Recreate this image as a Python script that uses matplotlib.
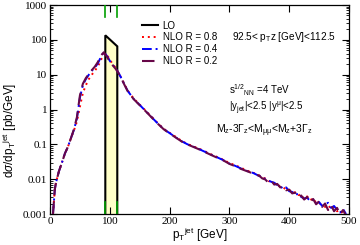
import matplotlib
matplotlib.use("Agg")
import matplotlib.pyplot as plt
from matplotlib.ticker import FixedLocator, FuncFormatter, LogLocator, NullFormatter

plt.rcParams['font.family'] = ['Liberation Sans', 'DejaVu Sans']
plt.rcParams['mathtext.fontset'] = 'custom'
plt.rcParams['mathtext.rm'] = 'Liberation Sans'
plt.rcParams['mathtext.it'] = 'Liberation Sans:italic'
plt.rcParams['mathtext.bf'] = 'Liberation Sans:bold'

# ---------------- data ----------------
pt = [5, 8, 10, 15, 20, 25, 30, 35, 40, 45,
      50, 55, 60, 65, 70, 75, 80, 85, 90, 95,
      100, 105, 110, 115, 120, 125, 130, 140, 150, 160,
      170, 180, 190, 200, 210, 220, 230, 240, 250, 260,
      270, 280, 290, 300, 310, 320, 330, 340, 350, 355,
      360, 365, 370, 375, 380, 385, 390, 395, 400, 405,
      410, 415, 420, 425, 430, 435, 440, 445, 450, 455,
      460, 465, 470, 475, 480, 485, 490, 495]

nlo_r08 = [0.001, 0.005, 0.008, 0.017, 0.03, 0.055, 0.085, 0.15, 0.25, 0.45,
           1.2, 3.0, 5.0, 7.5, 10, 13, 17, 26, 40, 38,
           27, 20, 15.5, 11, 7.6, 5.1, 3.5, 2.05, 1.38, 0.92,
           0.62, 0.41, 0.28, 0.215, 0.165, 0.126, 0.102, 0.087, 0.074, 0.062,
           0.051, 0.043, 0.036, 0.029, 0.025, 0.021, 0.0175, 0.0152, 0.0128, 0.0112,
           0.0105, 0.0088, 0.0086, 0.0074, 0.0072, 0.0060, 0.0058, 0.0050, 0.0049, 0.0040,
           0.0042, 0.0035, 0.0036, 0.0027, 0.0032, 0.0025, 0.0028, 0.0021, 0.0020, 0.0019,
           0.0016, 0.0018, 0.0014, 0.0016, 0.0012, 0.0013, 0.0010, 0.0009]

nlo_r04 = [0.001, 0.005, 0.008, 0.017, 0.03, 0.055, 0.085, 0.15, 0.26, 0.55,
           2.2, 5.0, 7.5, 10, 13, 16, 21, 32, 45, 35,
           25, 19, 15, 11, 7.5, 5.0, 3.4, 2.0, 1.35, 0.9,
           0.6, 0.4, 0.275, 0.21, 0.16, 0.123, 0.1, 0.085, 0.072, 0.06,
           0.05, 0.042, 0.035, 0.028, 0.024, 0.020, 0.017, 0.015, 0.0123, 0.0118,
           0.0100, 0.0092, 0.0084, 0.0079, 0.0068, 0.0064, 0.0052, 0.0058, 0.0045, 0.0043,
           0.0036, 0.0038, 0.0031, 0.0028, 0.0029, 0.0024, 0.0026, 0.0020, 0.0022, 0.0017,
           0.0019, 0.0021, 0.0015, 0.0017, 0.0013, 0.0011, 0.0014, 0.0010]

nlo_r02 = [0.001, 0.005, 0.008, 0.017, 0.03, 0.055, 0.085, 0.15, 0.27, 0.6,
           2.5, 5.5, 8.0, 10.5, 13.5, 17, 23, 35, 44, 33,
           24, 18.5, 14.5, 10.8, 7.4, 4.9, 3.35, 1.98, 1.33, 0.89,
           0.59, 0.395, 0.272, 0.205, 0.158, 0.121, 0.099, 0.084, 0.071, 0.059,
           0.049, 0.041, 0.0345, 0.0275, 0.0235, 0.0195, 0.0168, 0.0145, 0.0125, 0.0105,
           0.0098, 0.0080, 0.0090, 0.0070, 0.0073, 0.0058, 0.0062, 0.0048, 0.0050, 0.0039,
           0.0041, 0.0030, 0.0034, 0.0026, 0.0031, 0.0022, 0.0027, 0.0019, 0.0023, 0.0016,
           0.0020, 0.0013, 0.0018, 0.0012, 0.0015, 0.0010, 0.0013, 0.0009]

lo_pt = [92.5, 112.5]
lo_val = [135, 65]
ptz_window = [92.5, 112.5]

x_ticks = [0, 100, 200, 300, 400, 500]
y_ticks = [0.001, 0.01, 0.1, 1, 10, 100, 1000]
y_tick_labels = ["0.001", "0.01", "0.1", "1", "10", "100", "1000"]

# ---------------- figure ----------------
fig = plt.figure(figsize=(3.6, 2.45), dpi=100)
ax = fig.add_axes([50/360, 31/245, 299/360, 209/245])
ax.set_yscale('log')
ax.set_xlim(0, 500)
ax.set_ylim(0.001, 1000)

ymin = 0.001
# LO box
ax.fill_between(lo_pt, lo_val, ymin, color='#ffffc8', zorder=1)
ax.plot([lo_pt[0], lo_pt[0], lo_pt[1], lo_pt[1]],
        [ymin, lo_val[0], lo_val[1], ymin], color='black', lw=1.5,
        solid_joinstyle='miter', zorder=3, label='LO')

ax.plot(pt, nlo_r08, color='red', lw=1.4, ls=(0, (1, 2)), label='NLO R = 0.8', zorder=4)
ax.plot(pt, nlo_r04, color='blue', lw=1.4, ls=(0, (5, 2, 1, 2)), label='NLO R = 0.4', zorder=5)
ax.plot(pt, nlo_r02, color='#670748', lw=1.5, ls=(0, (6, 3)), label='NLO R = 0.2', zorder=6)

# green window markers
for xv in ptz_window:
    ax.axvline(xv, ymin=0.943, ymax=1.0, color='#00a000', lw=1.2, zorder=7)
    ax.axvline(xv, ymin=0.0, ymax=0.057, color='#00a000', lw=1.2, zorder=7)

# ticks
ax.xaxis.set_major_locator(FixedLocator(x_ticks))
ax.yaxis.set_major_locator(FixedLocator(y_ticks))
ax.yaxis.set_major_formatter(FuncFormatter(lambda v, p: y_tick_labels[y_ticks.index(min(y_ticks, key=lambda t: abs(t - v)))]))
ax.yaxis.set_minor_locator(LogLocator(base=10, subs=range(2, 10)))
ax.yaxis.set_minor_formatter(NullFormatter())
ax.tick_params(which='both', direction='in', top=True, right=True)
ax.tick_params(which='major', length=5, width=0.8, labelsize=8, pad=2)
ax.tick_params(which='minor', length=2.5, width=0.6)
for lab in ax.get_xticklabels() + ax.get_yticklabels():
    lab.set_fontfamily('Liberation Serif')
for s in ax.spines.values():
    s.set_linewidth(0.9)

ax.set_xlabel(r'p$_{\rm T}$$^{\rm jet}$ [GeV]', fontsize=8.5, labelpad=0)
ax.set_ylabel(r'd$\sigma$/dp$_{\rm T}$$^{\rm jet}$ [pb/GeV]', fontsize=8.5)
ax.yaxis.set_label_coords(-0.105, 0.40)

leg = ax.legend(loc='upper left', bbox_to_anchor=(0.308, 0.925), frameon=False,
                fontsize=7, handlelength=1.6, handletextpad=0.5, labelspacing=0.18,
                borderpad=0, borderaxespad=0)

ax.text(0.957, 0.845, r'92.5< p$_{\rm T}$z [GeV]<112.5', transform=ax.transAxes,
        fontsize=7.2, va='center', ha='right')
ax.text(0.599, 0.593, r's$^{\rm 1/2}$$_{\rm NN}$ =4 TeV', transform=ax.transAxes,
        fontsize=7, va='center', ha='left')
ax.text(0.599, 0.507, r'|y$_{\rm jet}$|<2.5 |y$^{\rm \mu}$|<2.5', transform=ax.transAxes,
        fontsize=7, va='center', ha='left')
ax.text(0.555, 0.397, r'M$_{\rm z}$-3$\Gamma_{\rm z}$<M$_{\rm \mu\mu}$<M$_{\rm z}$+3$\Gamma_{\rm z}$',
        transform=ax.transAxes, fontsize=7.5, va='center', ha='left')

fig.savefig('out.png', dpi=100)
